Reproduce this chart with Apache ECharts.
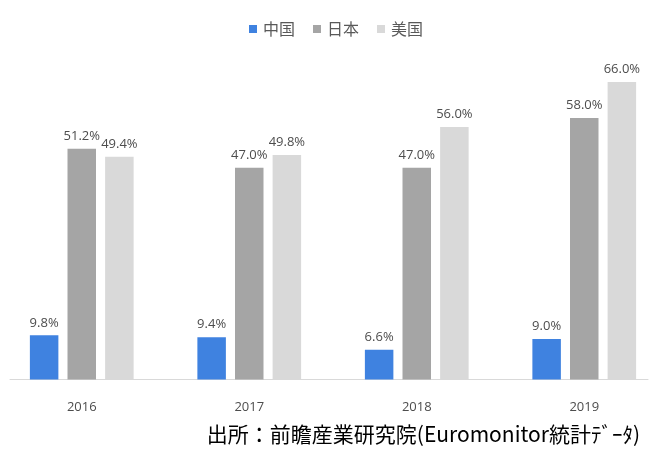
<!DOCTYPE html>
<html>
<head>
<meta charset="utf-8">
<script src="https://cdn.jsdelivr.net/npm/echarts@6/dist/echarts.min.js"></script>
<style>
html,body{margin:0;padding:0;background:#fff;}
#c{width:649px;height:453px;}
</style>
</head>
<body>
<div id="c"></div>
<script>
var categories = ['2016', '2017', '2018', '2019'];
var seriesNames = ['中国', '日本', '美国'];
var chinaValues = [9.8, 9.4, 6.6, 9.0];
var japanValues = [51.2, 47.0, 47.0, 58.0];
var usaValues = [49.4, 49.8, 56.0, 66.0];
var sourceText = '出所：前瞻産業研究院(Euromonitor統計ﾃﾞｰﾀ)';

var colors = ['#3F82E0', '#A5A5A5', '#D9D9D9'];
var labelStyle = {
  show: true, position: 'top', distance: 6,
  color: '#4d4d4d', fontSize: 13, fontFamily: 'Open Sans, Noto Sans, sans-serif',
  formatter: function (p) { return p.value.toFixed(1) + '%'; }
};

var chart = echarts.init(document.getElementById('c'), null, {renderer: 'canvas'});
var dataSets = [chinaValues, japanValues, usaValues];
chart.setOption({
  animation: false,
  backgroundColor: '#fff',
  legend: {
    top: 16, left: 244,
    itemWidth: 8, itemHeight: 8, itemGap: 18,
    icon: 'rect',
    textStyle: {color: '#595959', fontSize: 16, fontFamily: 'Noto Sans CJK SC', padding: [0,0,0,1]},
    data: seriesNames
  },
  grid: [
    {left: -2, width: 670, top: 64, bottom: 73.5, outerBoundsMode: 'none', containLabel: false},
    {left: 10, right: 1, top: 64, bottom: 73.5, outerBoundsMode: 'none', containLabel: false}
  ],
  xAxis: [
    {
      type: 'category', gridIndex: 0, data: categories,
      axisLine: {show: false}, axisTick: {show: false},
      axisLabel: {color: '#4d4d4d', fontSize: 13, margin: 21, fontFamily: 'Open Sans, Noto Sans, sans-serif'}
    },
    {
      type: 'category', gridIndex: 1, data: [],
      axisLine: {show: true, lineStyle: {color: '#D9D9D9', width: 1}},
      axisTick: {show: false}, axisLabel: {show: false}
    }
  ],
  yAxis: [
    {type: 'value', gridIndex: 0, min: 0, max: 70, show: false, splitLine: {show: false}},
    {type: 'value', gridIndex: 1, min: 0, max: 70, show: false, splitLine: {show: false}}
  ],
  series: seriesNames.map(function (n, i) {
    return {
      name: n, type: 'bar', xAxisIndex: 0, yAxisIndex: 0,
      data: dataSets[i],
      barWidth: 28.5, barGap: '32%',
      itemStyle: {color: colors[i]},
      label: labelStyle
    };
  }),
  graphic: [{
    type: 'text', right: 9, top: 424,
    style: {text: sourceText, fill: '#000', font: '21px "Noto Sans CJK JP"'}
  }]
});
</script>
</body>
</html>
